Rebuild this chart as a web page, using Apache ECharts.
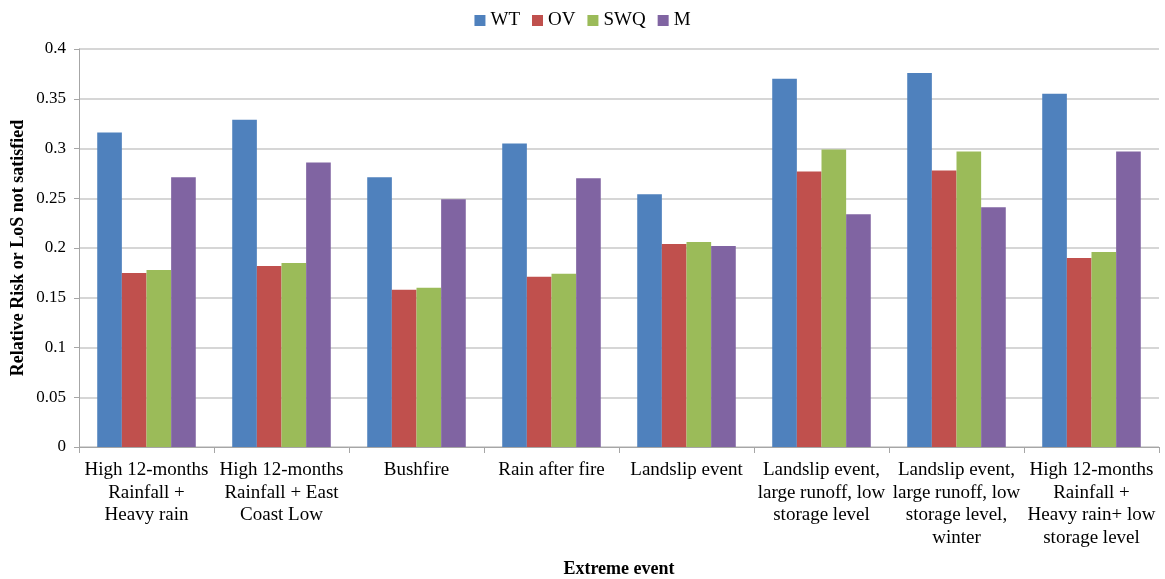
<!DOCTYPE html>
<html>
<head>
<meta charset="utf-8">
<script src="https://cdn.jsdelivr.net/npm/echarts@6/dist/echarts.min.js"></script>
<style>
html,body{margin:0;padding:0;background:#fff;}
#chart{width:1165px;height:579px;}
</style>
</head>
<body>
<div id="chart"></div>
<script>
const categories = [
  "High 12-months\nRainfall +\nHeavy rain",
  "High 12-months\nRainfall + East\nCoast Low",
  "Bushfire",
  "Rain after fire",
  "Landslip event",
  "Landslip event,\nlarge runoff, low\nstorage level",
  "Landslip event,\nlarge runoff, low\nstorage level,\nwinter",
  "High 12-months\nRainfall +\nHeavy rain+ low\nstorage level"
];
const seriesNames = ["WT", "OV", "SWQ", "M"];
const WT  = [0.316, 0.329, 0.271, 0.305, 0.254, 0.370, 0.376, 0.355];
const OV  = [0.175, 0.182, 0.158, 0.171, 0.204, 0.277, 0.278, 0.190];
const SWQ = [0.178, 0.185, 0.160, 0.174, 0.206, 0.299, 0.297, 0.196];
const M   = [0.271, 0.286, 0.249, 0.270, 0.202, 0.234, 0.241, 0.297];
const yTicks = ["0", "0.05", "0.1", "0.15", "0.2", "0.25", "0.3", "0.35", "0.4"];
const colors = ["#4f81bd", "#c0504d", "#9bbb59", "#8064a2"];

const font = "'Liberation Serif', 'Times New Roman', serif";
const chart = echarts.init(document.getElementById('chart'));
const values = [WT, OV, SWQ, M];
chart.setOption({
  animation: false,
  textStyle: { fontFamily: font, color: '#000' },
  legend: {
    top: 6, left: 'center',
    itemWidth: 11, itemHeight: 11, itemGap: 12,
    icon: 'rect',
    textStyle: { fontFamily: font, fontSize: 19, color: '#000' },
    data: seriesNames
  },
  grid: { left: 79, right: 6, top: 49, bottom: 132, containLabel: false, outerBoundsMode: 'none' },
  xAxis: {
    type: 'category',
    data: categories,
    name: 'Extreme event',
    nameLocation: 'middle',
    nameGap: 113,
    nameMoveOverlap: false,
    nameTextStyle: { fontFamily: font, fontSize: 18, fontWeight: 'bold', color: '#000' },
    axisLine: { lineStyle: { color: '#a6a6a6' } },
    axisTick: { show: true, length: 6, lineStyle: { color: '#a6a6a6' }, alignWithLabel: false },
    axisLabel: { interval: 0, fontFamily: font, fontSize: 19, color: '#000', lineHeight: 22.5, margin: 12 }
  },
  yAxis: {
    type: 'value',
    min: 0, max: 0.4, interval: 0.05,
    name: 'Relative Risk or LoS not satisfied',
    nameLocation: 'middle',
    nameGap: 52,
    nameMoveOverlap: false,
    nameTextStyle: { fontFamily: font, fontSize: 18, fontWeight: 'bold', color: '#000' },
    axisLine: { show: true, lineStyle: { color: '#a6a6a6' } },
    axisTick: { show: true, length: 5, lineStyle: { color: '#a6a6a6' } },
    splitLine: { lineStyle: { color: '#c8c8c8', width: 1.5 } },
    axisLabel: {
      fontFamily: font, fontSize: 17, color: '#000', margin: 13,
      formatter: (v) => yTicks[Math.round(v / 0.05)]
    }
  },
  series: seriesNames.map((n, i) => ({
    name: n,
    type: 'bar',
    data: values[i],
    barGap: '0%',
    barCategoryGap: '27%',
    itemStyle: { color: colors[i] }
  }))
});
</script>
</body>
</html>
